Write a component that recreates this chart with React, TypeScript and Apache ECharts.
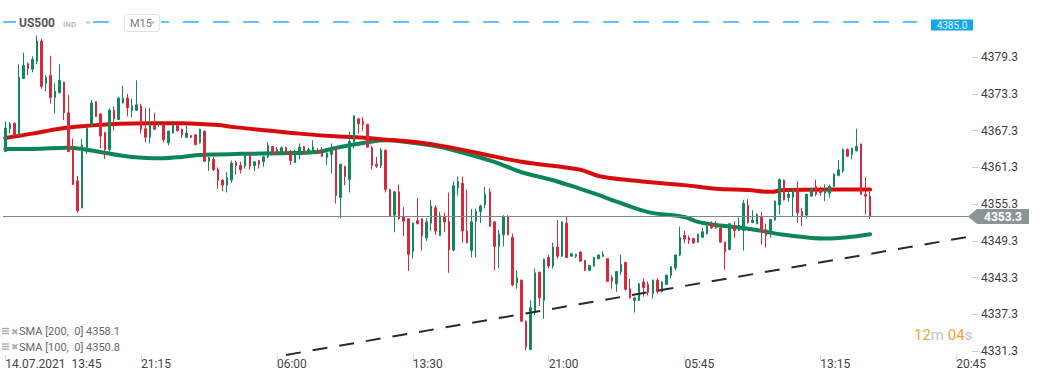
import React, { useEffect, useRef } from "react";
import * as echarts from "echarts";

// ---------- data ----------
const SLOT_COUNT = 214;
const categories: string[] = Array.from({ length: SLOT_COUNT }, (_, i) => `c${i}`);
const tickEvery = 30;
const tickLabels = ["14.07.2021\u00a0\u00a013:45", "21:15", "06:00", "13:30", "21:00", "05:45", "13:15", "20:45"];
const priceTicks = [4331.3, 4337.3, 4343.3, 4349.3, 4355.3, 4361.3, 4367.3, 4373.3, 4379.3];
const priceMin = 4330.69;
const priceMax = 4388.27;

// [open, close, low, high]
const ohlc: number[][] = [
  [4363.9, 4367.7, 4363.8, 4368.8], [4367.6, 4368.4, 4366.8, 4368.7], [4368.5, 4366.5, 4366.4, 4368.6], [4366.5, 4376.0, 4366.4, 4378.1],
  [4375.8, 4377.9, 4375.7, 4380.0], [4378.2, 4377.4, 4376.3, 4378.4], [4377.3, 4378.9, 4376.8, 4379.4], [4378.6, 4381.9, 4378.1, 4382.8],
  [4381.9, 4374.5, 4374.1, 4382.3], [4375.0, 4376.0, 4373.7, 4376.3], [4376.3, 4372.7, 4371.7, 4379.5], [4372.7, 4373.7, 4370.1, 4375.0],
  [4373.5, 4375.5, 4373.3, 4378.1], [4375.2, 4370.2, 4369.0, 4375.3], [4370.2, 4363.9, 4363.8, 4373.1], [4364.5, 4358.5, 4358.4, 4366.0],
  [4359.1, 4354.2, 4353.9, 4359.9], [4354.7, 4364.9, 4354.6, 4365.9], [4364.5, 4367.7, 4363.5, 4367.8], [4368.3, 4371.8, 4367.9, 4372.3],
  [4372.0, 4369.6, 4369.5, 4372.1], [4370.0, 4366.4, 4364.4, 4370.1], [4367.0, 4364.2, 4362.7, 4367.1], [4364.2, 4370.6, 4363.8, 4370.9],
  [4370.6, 4369.2, 4367.3, 4371.2], [4369.1, 4372.6, 4369.0, 4372.7], [4371.8, 4372.6, 4371.7, 4374.6], [4372.6, 4371.0, 4369.6, 4373.3],
  [4370.6, 4371.3, 4369.5, 4372.5], [4370.6, 4371.5, 4370.5, 4375.5], [4371.3, 4367.5, 4366.8, 4371.7], [4367.6, 4366.2, 4365.4, 4371.0],
  [4366.2, 4368.3, 4365.2, 4371.0], [4368.1, 4367.5, 4367.4, 4370.2], [4368.3, 4368.4, 4367.9, 4368.8], [4368.3, 4365.8, 4365.4, 4368.4],
  [4365.3, 4367.2, 4364.9, 4367.3], [4366.9, 4368.2, 4366.8, 4368.4], [4368.1, 4367.3, 4367.1, 4368.3], [4367.5, 4366.6, 4366.1, 4367.6],
  [4366.2, 4366.9, 4366.1, 4368.1], [4366.5, 4366.2, 4366.1, 4366.6], [4366.6, 4365.0, 4364.9, 4366.7], [4365.3, 4367.5, 4365.2, 4367.6],
  [4367.2, 4362.3, 4362.2, 4367.3], [4362.3, 4362.9, 4360.7, 4363.0], [4362.6, 4360.9, 4360.7, 4363.0], [4361.0, 4359.2, 4357.8, 4361.3],
  [4359.2, 4358.4, 4357.4, 4359.4], [4358.4, 4359.6, 4357.2, 4360.5], [4359.2, 4362.0, 4358.8, 4362.4], [4362.1, 4361.6, 4360.1, 4362.4],
  [4361.6, 4360.9, 4360.3, 4362.2], [4361.5, 4363.4, 4361.1, 4363.6], [4363.4, 4361.5, 4360.9, 4363.8], [4361.6, 4362.2, 4360.7, 4362.3],
  [4362.4, 4361.8, 4361.1, 4362.5], [4362.2, 4363.0, 4361.4, 4363.2], [4363.0, 4364.9, 4362.8, 4365.4], [4364.7, 4363.8, 4363.3, 4364.8],
  [4364.2, 4363.4, 4363.3, 4364.6], [4363.8, 4364.5, 4363.4, 4364.7], [4364.5, 4363.7, 4363.3, 4364.7], [4363.7, 4362.4, 4361.7, 4364.1],
  [4362.1, 4363.9, 4362.0, 4364.2], [4364.0, 4364.6, 4362.6, 4365.2], [4364.7, 4363.7, 4363.4, 4364.8], [4363.8, 4364.2, 4363.4, 4364.5],
  [4363.7, 4364.6, 4363.5, 4365.7], [4364.0, 4363.7, 4363.5, 4364.5], [4363.9, 4363.1, 4363.0, 4364.6], [4362.9, 4363.6, 4361.7, 4363.8],
  [4363.4, 4364.5, 4360.3, 4365.2], [4364.2, 4356.7, 4355.4, 4364.6], [4356.4, 4361.8, 4353.0, 4361.9], [4361.4, 4359.8, 4358.4, 4361.6],
  [4359.3, 4365.5, 4357.2, 4367.1], [4365.5, 4369.7, 4364.4, 4369.8], [4369.2, 4368.4, 4366.8, 4369.4], [4368.8, 4368.3, 4367.3, 4369.5],
  [4368.3, 4364.6, 4364.5, 4368.4], [4364.5, 4361.6, 4361.0, 4364.8], [4361.8, 4361.5, 4361.2, 4363.0], [4361.6, 4364.1, 4361.2, 4364.4],
  [4364.1, 4357.7, 4357.2, 4364.2], [4357.7, 4353.4, 4353.2, 4357.8], [4353.5, 4357.3, 4350.7, 4357.4], [4357.3, 4352.9, 4352.8, 4358.5],
  [4353.2, 4352.5, 4350.1, 4354.8], [4352.9, 4347.1, 4344.4, 4353.0], [4347.6, 4352.2, 4346.4, 4352.3], [4352.6, 4352.1, 4352.0, 4356.3],
  [4352.9, 4350.1, 4347.7, 4353.0], [4349.8, 4352.4, 4349.3, 4353.0], [4352.2, 4355.0, 4350.9, 4356.0], [4354.7, 4350.9, 4350.3, 4355.1],
  [4350.2, 4353.4, 4350.1, 4354.0], [4353.2, 4352.4, 4350.8, 4353.9], [4352.5, 4347.8, 4344.1, 4357.2], [4347.8, 4358.3, 4347.6, 4359.0],
  [4358.0, 4359.0, 4356.7, 4359.8], [4358.7, 4350.9, 4349.0, 4359.8], [4350.9, 4349.0, 4348.9, 4357.7], [4347.7, 4352.4, 4346.6, 4354.5],
  [4352.5, 4354.1, 4346.6, 4354.6], [4354.1, 4355.0, 4352.2, 4355.2], [4355.2, 4356.9, 4354.6, 4358.1], [4357.3, 4351.7, 4351.6, 4357.9],
  [4352.4, 4348.4, 4344.5, 4352.5], [4348.4, 4350.4, 4344.9, 4351.1], [4350.3, 4353.3, 4348.4, 4353.5], [4353.2, 4350.3, 4350.2, 4353.5],
  [4349.9, 4342.1, 4341.9, 4350.5], [4342.5, 4343.3, 4341.5, 4344.5], [4342.9, 4336.2, 4336.1, 4343.0], [4336.2, 4332.0, 4331.5, 4336.3],
  [4331.6, 4338.4, 4331.5, 4339.6], [4337.7, 4344.1, 4337.2, 4344.8], [4344.2, 4340.0, 4338.7, 4344.3], [4339.6, 4346.3, 4336.6, 4346.4],
  [4346.6, 4345.2, 4344.8, 4347.0], [4345.2, 4348.3, 4344.8, 4349.0], [4348.3, 4346.8, 4346.4, 4352.7], [4346.8, 4352.4, 4346.7, 4352.5],
  [4352.2, 4346.6, 4346.5, 4353.2], [4346.8, 4347.2, 4346.7, 4347.3], [4346.8, 4347.1, 4346.5, 4347.2], [4347.5, 4346.0, 4345.9, 4347.6],
  [4346.1, 4344.5, 4344.4, 4346.2], [4344.5, 4345.3, 4344.4, 4345.4], [4345.2, 4346.6, 4345.1, 4346.7], [4346.4, 4347.0, 4346.3, 4347.1],
  [4346.8, 4347.1, 4346.7, 4347.6], [4346.4, 4342.7, 4342.6, 4346.5], [4343.3, 4342.7, 4341.5, 4343.7], [4342.3, 4344.3, 4341.0, 4344.4],
  [4344.3, 4345.5, 4343.7, 4347.0], [4345.8, 4341.4, 4341.2, 4345.9], [4341.5, 4340.0, 4339.9, 4343.1], [4339.6, 4340.0, 4337.6, 4340.2],
  [4339.6, 4342.3, 4339.5, 4342.5], [4342.6, 4341.7, 4340.2, 4343.2], [4342.2, 4340.9, 4340.4, 4342.7], [4340.7, 4342.9, 4339.9, 4343.0],
  [4342.9, 4341.0, 4340.7, 4343.2], [4341.0, 4342.6, 4340.9, 4342.7], [4342.2, 4343.7, 4342.1, 4343.8], [4343.7, 4345.1, 4343.2, 4345.2],
  [4344.9, 4347.0, 4344.5, 4347.1], [4347.0, 4349.9, 4346.8, 4351.6], [4350.2, 4349.6, 4348.9, 4351.0], [4349.8, 4349.4, 4348.8, 4350.2],
  [4349.7, 4349.0, 4348.8, 4349.8], [4349.1, 4350.4, 4349.0, 4350.5], [4349.9, 4350.8, 4349.8, 4351.4], [4350.5, 4351.7, 4350.3, 4352.1],
  [4352.0, 4351.4, 4351.3, 4352.5], [4351.7, 4351.4, 4351.3, 4352.5], [4351.4, 4349.1, 4349.0, 4351.6], [4349.1, 4347.5, 4344.6, 4349.2],
  [4347.9, 4352.1, 4347.8, 4352.2], [4351.7, 4351.0, 4349.8, 4352.5], [4351.0, 4351.9, 4350.9, 4353.1], [4351.0, 4355.4, 4347.7, 4356.0],
  [4355.1, 4352.3, 4352.1, 4356.1], [4352.3, 4352.7, 4352.2, 4354.3], [4352.1, 4353.6, 4352.0, 4353.8], [4353.2, 4351.0, 4348.7, 4354.0],
  [4351.1, 4350.2, 4348.2, 4352.1], [4350.6, 4352.8, 4349.8, 4352.9], [4352.7, 4355.8, 4352.6, 4355.9], [4355.2, 4359.3, 4353.6, 4359.5],
  [4359.2, 4356.0, 4355.9, 4359.3], [4356.4, 4356.9, 4355.7, 4357.8], [4356.4, 4357.7, 4353.2, 4357.9], [4357.8, 4353.9, 4352.3, 4359.0],
  [4354.1, 4353.4, 4351.7, 4354.7], [4353.5, 4356.9, 4353.1, 4357.0], [4356.6, 4357.8, 4356.5, 4358.0], [4358.2, 4356.9, 4356.6, 4359.3],
  [4357.6, 4357.2, 4356.7, 4358.1], [4357.1, 4357.7, 4355.8, 4358.5], [4357.1, 4358.2, 4356.3, 4358.5], [4358.2, 4360.2, 4358.1, 4360.3],
  [4360.0, 4360.9, 4359.8, 4362.5], [4360.7, 4364.2, 4360.4, 4364.4], [4364.2, 4363.1, 4363.0, 4364.4], [4363.4, 4364.4, 4362.6, 4364.5],
  [4364.0, 4364.7, 4363.9, 4367.6], [4365.1, 4356.9, 4356.8, 4365.2], [4356.9, 4356.6, 4353.6, 4359.7], [4356.6, 4353.3, 4352.9, 4357.3],
];

// moving averages, read at sampled candle indices: [index, value]
const sma200: number[][] = [
  [0, 4366.1], [6, 4366.8], [12, 4367.6], [17, 4368.0], [25, 4368.4], [32, 4368.5], [39, 4368.5], [47, 4368.2],
  [50, 4367.9], [58, 4367.3], [65, 4366.8], [72, 4366.4], [80, 4366.1], [83, 4365.9], [91, 4365.4], [98, 4364.6],
  [114, 4362.2], [127, 4360.9], [131, 4359.9], [138, 4359.2], [150, 4358.4], [157, 4357.8], [164, 4357.6],
  [169, 4357.3], [172, 4357.6], [183, 4357.7], [191, 4357.7],
];
const sma100: number[][] = [
  [0, 4364.3], [6, 4364.3], [14, 4364.5], [17, 4364.3], [21, 4363.8], [28, 4363.0], [35, 4362.8], [39, 4363.0],
  [43, 4363.3], [47, 4363.4], [52, 4363.5], [61, 4363.6], [69, 4363.8], [72, 4364.3], [76, 4364.9], [80, 4365.4],
  [84, 4365.7], [89, 4365.4], [94, 4364.9], [98, 4364.3], [108, 4362.2], [114, 4360.5], [121, 4359.2], [127, 4357.8],
  [131, 4356.8], [135, 4355.7], [142, 4354.0], [150, 4353.2], [153, 4352.4], [157, 4351.9], [164, 4351.3],
  [168, 4350.8], [172, 4350.3], [181, 4349.7], [186, 4349.9], [191, 4350.4],
];

const alertLevel = 4385.0;
const trendStart = [62, 4330.7];
const trendEnd = [213, 4350.0];
const symbolName = "US500";
const symbolType = "IND";
const timeframe = "M15";
const legendRows = ["SMA\u00a0[200,\u00a0\u00a00]\u00a04358.1", "SMA\u00a0[100,\u00a0\u00a00]\u00a04350.8"];
const countdown = { minutes: "12", seconds: "04" };

const GREEN = "#12875b";
const RED = "#d62a3b";
const FONT = "Roboto, sans-serif";

export default function App() {
  const ref = useRef<HTMLDivElement>(null);

  useEffect(() => {
    if (!ref.current) return;
    const chart = echarts.init(ref.current, null, { renderer: "svg" });
    const lastClose = ohlc[ohlc.length - 1][1];

    chart.setOption({
      animation: false,
      backgroundColor: "#ffffff",
      textStyle: { fontFamily: FONT },
      grid: { left: 3, right: 69, top: 2, bottom: 25, containLabel: false },
      xAxis: {
        type: "category",
        data: categories,
        boundaryGap: true,
        axisLine: { show: false },
        splitLine: { show: false },
        axisTick: {
          show: true,
          alignWithLabel: true,
          interval: (idx: number) => idx % tickEvery === 0,
          length: 6,
          lineStyle: { color: "#dddddd" },
        },
        axisLabel: {
          interval: (idx: number) => idx % tickEvery === 0,
          formatter: (_v: string, idx: number) => tickLabels[idx / tickEvery] ?? "",
          align: "left",
          color: "#444444",
          fontSize: 12,
          fontFamily: FONT,
          margin: 3,
          hideOverlap: false,
        },
      },
      yAxis: {
        type: "value",
        position: "right",
        min: priceMin,
        max: priceMax,
        axisLine: { show: false },
        splitLine: { show: false },
        axisTick: { show: true, length: 6, customValues: priceTicks, lineStyle: { color: "#cccccc" } },
        axisLabel: {
          customValues: priceTicks,
          formatter: (v: number) => v.toFixed(1),
          color: "#3d3d3d",
          fontSize: 12,
          fontFamily: FONT,
          margin: 9,
        },
      },
      series: [
        {
          name: "SMA100",
          type: "line",
          data: sma100,
          smooth: 0.35,
          showSymbol: false,
          symbol: "none",
          z: 2,
          lineStyle: { color: "#0c8657", width: 4, cap: "round", join: "round" },
          silent: true,
        },
        {
          name: "SMA200",
          type: "line",
          data: sma200,
          smooth: 0.35,
          showSymbol: false,
          symbol: "none",
          z: 2,
          lineStyle: { color: "#d80c0c", width: 4, cap: "round", join: "round" },
          silent: true,
        },
        {
          name: symbolName,
          type: "candlestick",
          data: ohlc,
          barWidth: 2,
          z: 3,
          itemStyle: {
            color: GREEN,
            color0: RED,
            borderColor: GREEN,
            borderColor0: RED,
            borderWidth: 1,
          },
          markLine: {
            silent: true,
            symbol: ["none", "none"],
            label: { show: false },
            animation: false,
            data: [
              { yAxis: lastClose, lineStyle: { color: "#7d898d", width: 1, type: "solid" } },
              { yAxis: alertLevel, lineStyle: { color: "#2cb1f3", width: 1.5, type: [16, 14] } },
              [
                { coord: trendStart, lineStyle: { color: "#2a2a2a", width: 2, type: [15, 12] } },
                { coord: trendEnd, lineStyle: { color: "#2a2a2a", width: 2, type: [15, 12] } },
              ],
            ],
          },
        },
      ],
    });

    const yLast = chart.convertToPixel({ yAxisIndex: 0 }, lastClose) as number;
    const yAlert = chart.convertToPixel({ yAxisIndex: 0 }, alertLevel) as number;

    const legendEls: any[] = [];
    legendRows.forEach((txt, k) => {
      const cy = 331.5 + k * 15.5;
      [-3, -0.5, 2].forEach((dy) => {
        legendEls.push({
          type: "rect",
          z: 100,
          shape: { x: 2, y: cy + dy - 0.7, width: 7, height: 1.4 },
          style: { fill: "#a9a9a9" },
        });
      });
      legendEls.push({
        type: "text",
        z: 100,
        x: 11,
        y: cy,
        style: { text: "\u2716", font: `9px 'DejaVu Sans', sans-serif`, fill: "#b0b0b0", verticalAlign: "middle" },
      });
      legendEls.push({
        type: "text",
        z: 100,
        x: 19,
        y: cy,
        style: { text: txt, font: `11px ${FONT}`, fill: "#666666", verticalAlign: "middle" },
      });
    });

    chart.setOption({
      graphic: {
        elements: [
          // header covers
          { type: "rect", z: 100, shape: { x: 16, y: 11, width: 77, height: 20 }, style: { fill: "#ffffff" } },
          { type: "text", z: 101, x: 19, y: 22.5, style: { text: symbolName, font: `bold 12px ${FONT}`, fill: "#575757", verticalAlign: "middle" } },
          { type: "text", z: 101, x: 63, y: 24, style: { text: symbolType, font: `bold 8px ${FONT}`, fill: "#bdbdbd", verticalAlign: "middle" } },
          { type: "polygon", z: 101, shape: { points: [[85, 21.5], [91, 21.5], [88, 24.5]] }, style: { fill: "#c8c8c8" } },
          { type: "rect", z: 100, shape: { x: 121, y: 11, width: 40, height: 22 }, style: { fill: "#ffffff" } },
          { type: "rect", z: 101, shape: { x: 124.5, y: 14.5, width: 35, height: 17, r: 3 }, style: { fill: "#ffffff", stroke: "#e2e2e2", lineWidth: 1 } },
          { type: "text", z: 102, x: 130, y: 23, style: { text: timeframe, font: `11px ${FONT}`, fill: "#7a7a7a", verticalAlign: "middle" } },
          { type: "polygon", z: 102, shape: { points: [[149.5, 21.5], [155, 21.5], [152.25, 24.5]] }, style: { fill: "#c0c0c0" } },
          // alert tag
          { type: "rect", z: 100, shape: { x: 917, y: yAlert - 3, width: 14, height: 6 }, style: { fill: "#ffffff" } },
          { type: "rect", z: 101, shape: { x: 931, y: yAlert - 2.5, width: 42, height: 11 }, style: { fill: "#11a6ee" } },
          { type: "text", z: 102, x: 952, y: yAlert + 3, style: { text: alertLevel.toFixed(1), font: `10px ${FONT}`, fill: "#eaf7ff", align: "center", verticalAlign: "middle" } },
          // current price tag
          {
            type: "polygon",
            z: 101,
            shape: { points: [[968, yLast], [977, yLast - 7.5], [1029, yLast - 7.5], [1029, yLast + 7.5], [977, yLast + 7.5]] },
            style: { fill: "#8b9497" },
          },
          { type: "text", z: 102, x: 1003, y: yLast + 0.5, style: { text: lastClose.toFixed(1), font: `bold 12px ${FONT}`, fill: "#ffffff", align: "center", verticalAlign: "middle" } },
          // countdown
          {
            type: "text",
            z: 101,
            x: 914,
            y: 335,
            style: {
              text: `{o|${countdown.minutes}}{g|m} {o|${countdown.seconds}}{g|s}`,
              verticalAlign: "middle",
              rich: {
                o: { fill: "#f6a236", fontSize: 15, fontFamily: FONT },
                g: { fill: "#c2c2c2", fontSize: 15, fontFamily: FONT },
              },
              font: `15px ${FONT}`,
            },
          },
          ...legendEls,
        ],
      },
    });

    return () => chart.dispose();
  }, []);

  return (
    <div
      ref={ref}
      style={{ position: "absolute", left: 0, top: 0, width: 1041, height: 380, background: "#fff" }}
    />
  );
}
